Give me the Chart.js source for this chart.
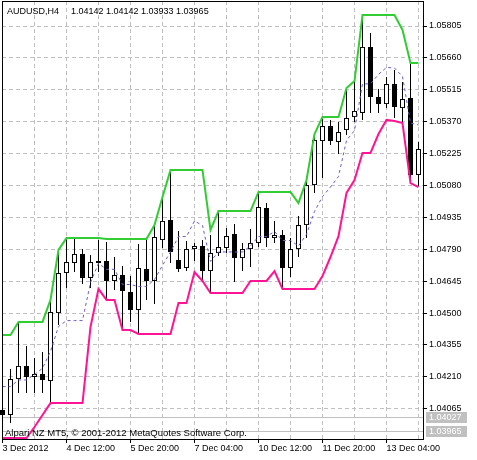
<!DOCTYPE html>
<html>
<head>
<meta charset="utf-8">
<script src="https://cdn.jsdelivr.net/npm/chart.js@4.4.1/dist/chart.umd.min.js"></script>
<style>
  html, body { margin: 0; padding: 0; background: #fff; }
  canvas { display: block; }
</style>
</head>
<body>
<canvas id="chart" width="477" height="460"></canvas>
<script>
// AUDUSD H4 candles, one entry per bar
const opens  = [1.04060, 1.04037, 1.04200, 1.04260, 1.04210, 1.04223, 1.04191, 1.04500, 1.04682, 1.04728,
                1.04769, 1.04660, 1.04737, 1.04737, 1.04646, 1.04673, 1.04596, 1.04514, 1.04700, 1.04646,
                1.04832, 1.04923, 1.04741, 1.04705, 1.04791, 1.04805, 1.04691, 1.04773, 1.04796, 1.04860,
                1.04750, 1.04791, 1.04819, 1.04978, 1.04841, 1.04855, 1.04705, 1.04791, 1.04900, 1.05082,
                1.05282, 1.05350, 1.05278, 1.05332, 1.05391, 1.05410, 1.05710, 1.05482, 1.05450, 1.05541,
                1.05432, 1.05478, 1.05128];
const highs  = [1.04078, 1.04246, 1.04455, 1.04350, 1.04296, 1.04323, 1.04550, 1.04787, 1.04841, 1.04837,
                1.04791, 1.04764, 1.04832, 1.04823, 1.04755, 1.04714, 1.04669, 1.04814, 1.04832, 1.04896,
                1.05023, 1.05150, 1.04873, 1.04828, 1.04819, 1.04832, 1.04855, 1.04964, 1.04887, 1.04905,
                1.04819, 1.04882, 1.05050, 1.05000, 1.04919, 1.04878, 1.04841, 1.04941, 1.05100, 1.05314,
                1.05391, 1.05378, 1.05369, 1.05519, 1.05550, 1.05855, 1.05773, 1.05519, 1.05573, 1.05605,
                1.05550, 1.05632, 1.05278];
const lows   = [1.04023, 1.04000, 1.04137, 1.04137, 1.04137, 1.04137, 1.04091, 1.04446, 1.04614, 1.04687,
                1.04632, 1.04614, 1.04687, 1.04564, 1.04605, 1.04423, 1.04460, 1.04405, 1.04560, 1.04541,
                1.04796, 1.04728, 1.04687, 1.04691, 1.04737, 1.04646, 1.04591, 1.04760, 1.04773, 1.04641,
                1.04691, 1.04710, 1.04800, 1.04800, 1.04819, 1.04610, 1.04664, 1.04755, 1.04841, 1.05046,
                1.05114, 1.05264, 1.05223, 1.05310, 1.05369, 1.05378, 1.05410, 1.05410, 1.05432, 1.05387,
                1.05360, 1.05100, 1.05078];
const closes = [1.04037, 1.04200, 1.04260, 1.04210, 1.04223, 1.04196, 1.04505, 1.04682, 1.04732, 1.04769,
                1.04660, 1.04732, 1.04728, 1.04646, 1.04673, 1.04600, 1.04514, 1.04705, 1.04646, 1.04846,
                1.04919, 1.04778, 1.04700, 1.04791, 1.04805, 1.04691, 1.04773, 1.04800, 1.04850, 1.04750,
                1.04791, 1.04819, 1.04982, 1.04841, 1.04855, 1.04705, 1.04791, 1.04900, 1.05082, 1.05287,
                1.05350, 1.05282, 1.05323, 1.05387, 1.05419, 1.05710, 1.05482, 1.05450, 1.05541, 1.05437,
                1.05473, 1.05128, 1.05246];

// price channel lines
const upper  = [1.04400, 1.04400, 1.04460, 1.04460, 1.04460, 1.04460, 1.04560, 1.04787, 1.04841, 1.04841,
                1.04841, 1.04841, 1.04841, 1.04837, 1.04837, 1.04837, 1.04837, 1.04837, 1.04837, 1.04900,
                1.05028, 1.05150, 1.05150, 1.05150, 1.05150, 1.05150, 1.04878, 1.04964, 1.04964, 1.04964,
                1.04964, 1.04964, 1.05050, 1.05050, 1.05050, 1.05050, 1.05050, 1.05000, 1.05105, 1.05314,
                1.05391, 1.05391, 1.05391, 1.05523, 1.05555, 1.05855, 1.05855, 1.05855, 1.05855, 1.05855,
                1.05787, 1.05637, 1.05637];
const lower  = [1.03932, 1.03932, 1.03932, 1.03932, 1.03982, 1.04037, 1.04091, 1.04091, 1.04091, 1.04091,
                1.04091, 1.04437, 1.04610, 1.04560, 1.04560, 1.04423, 1.04423, 1.04405, 1.04405, 1.04405,
                1.04405, 1.04405, 1.04546, 1.04546, 1.04687, 1.04646, 1.04591, 1.04591, 1.04591, 1.04591,
                1.04591, 1.04646, 1.04646, 1.04646, 1.04691, 1.04610, 1.04610, 1.04610, 1.04610, 1.04610,
                1.04669, 1.04755, 1.04850, 1.05046, 1.05105, 1.05228, 1.05228, 1.05314, 1.05378, 1.05373,
                1.05364, 1.05091, 1.05073];
const middle = [1.04166, 1.04166, 1.04196, 1.04196, 1.04221, 1.04249, 1.04326, 1.04439, 1.04466, 1.04466,
                1.04466, 1.04639, 1.04726, 1.04699, 1.04699, 1.04630, 1.04630, 1.04621, 1.04621, 1.04653,
                1.04717, 1.04778, 1.04848, 1.04848, 1.04919, 1.04898, 1.04735, 1.04778, 1.04778, 1.04778,
                1.04778, 1.04805, 1.04848, 1.04848, 1.04871, 1.04830, 1.04830, 1.04805, 1.04858, 1.04962,
                1.05030, 1.05073, 1.05121, 1.05285, 1.05330, 1.05542, 1.05542, 1.05585, 1.05617, 1.05614,
                1.05576, 1.05364, 1.05355];

// axes
const priceTicks = [1.04065, 1.04210, 1.04355, 1.04500, 1.04645, 1.04790, 1.04935,
                    1.05080, 1.05225, 1.05370, 1.05515, 1.05660, 1.05805];
const gridBars   = [0, 4, 8, 12, 16, 20, 24, 28, 32, 36, 40, 44, 48, 52];
const dateBars   = [0, 8, 16, 24, 32, 40, 48];
const dateLabels = ['3 Dec 2012', '4 Dec 12:00', '5 Dec 20:00', '7 Dec 04:00',
                    '10 Dec 12:00', '11 Dec 20:00', '13 Dec 04:00'];

// current quotes and texts
const ask = 1.04027;
const bid = 1.03965;
const symbolText = 'AUDUSD,H4';
const ohlcText = '1.04142 1.04142 1.03933 1.03965';
const copyright = 'Alpari NZ MT5, \u00a9 2001-2012 MetaQuotes Software Corp.';

const FONT = 'Liberation Sans';
Chart.defaults.font.family = FONT;
Chart.defaults.font.size = 9;
Chart.defaults.color = '#000';

const idx = opens.map((_, i) => i);
const wicks = idx.map(i => ({ x: i, y: [lows[i], highs[i]] }));
const bodies = idx.map(i => ({ x: i, y: [Math.min(opens[i], closes[i]), Math.max(opens[i], closes[i])] }));
const bodyFill = idx.map(i => closes[i] >= opens[i] ? '#ffffff' : '#000000');
const asPoints = arr => arr.map((v, i) => ({ x: i, y: v }));

// frame, header, quote lines
const overlay = {
  id: 'overlay',
  beforeDatasetsDraw(chart) {
    const { ctx, chartArea: a, scales: { y } } = chart;
    ctx.save();
    ctx.strokeStyle = '#c0c0c0';
    ctx.lineWidth = 1;
    [ask, bid].forEach(p => {
      const py = Math.round(y.getPixelForValue(p)) + 0.5;
      ctx.beginPath();
      ctx.moveTo(a.left, py);
      ctx.lineTo(a.right, py);
      ctx.stroke();
    });
    ctx.restore();
  },
  afterDraw(chart) {
    const { ctx, chartArea: a, scales: { y } } = chart;
    ctx.save();
    ctx.strokeStyle = '#000';
    ctx.lineWidth = 1;
    ctx.strokeRect(a.left + 0.5, a.top + 0.5, a.right - a.left, a.bottom - a.top);

    ctx.font = '9px "' + FONT + '"';
    ctx.fillStyle = '#000';
    ctx.textBaseline = 'alphabetic';
    ctx.fillText(symbolText, 7, 13.5);
    ctx.fillText(ohlcText, 71, 13.5);
    ctx.font = '9.5px "' + FONT + '"';
    ctx.fillText(copyright, 5, 435.5);

    ctx.font = '9px "' + FONT + '"';
    [ask, bid].forEach(p => {
      const py = Math.round(y.getPixelForValue(p));
      ctx.fillStyle = '#c0c0c0';
      ctx.fillRect(a.right + 3, py - 5, 41, 11);
      ctx.fillStyle = '#ffffff';
      ctx.textBaseline = 'middle';
      ctx.fillText(p.toFixed(5), a.right + 6, py + 0.5);
    });
    ctx.restore();
  }
};

new Chart(document.getElementById('chart').getContext('2d'), {
  type: 'bar',
  data: {
    datasets: [
      { type: 'line', data: asPoints(upper), borderColor: '#32cd32', borderWidth: 2,
        pointRadius: 0, tension: 0, order: 0 },
      { type: 'line', data: asPoints(lower), borderColor: '#ff1493', borderWidth: 2,
        pointRadius: 0, tension: 0, order: 0 },
      { type: 'line', data: asPoints(middle), borderColor: '#6a5acd', borderWidth: 1,
        borderDash: [3, 3], pointRadius: 0, tension: 0, order: 0 },
      { type: 'bar', data: bodies, backgroundColor: bodyFill, borderColor: '#000', borderWidth: 1,
        borderSkipped: false, barThickness: 5, grouped: false, inflateAmount: 0, order: 1,
        clip: { left: 3, top: 0, right: 0, bottom: 0 } },
      { type: 'bar', data: wicks, backgroundColor: '#000', borderWidth: 0,
        barThickness: 1, grouped: false, inflateAmount: 0, order: 2,
        clip: { left: 3, top: 0, right: 0, bottom: 0 } }
    ]
  },
  options: {
    responsive: false,
    animation: false,
    events: [],
    layout: { autoPadding: false, padding: { left: 2, top: 1, right: 0, bottom: 0 } },
    plugins: {
      legend: { display: false },
      tooltip: { enabled: false },
      title: { display: false }
    },
    scales: {
      x: {
        type: 'linear',
        min: -0.0625,
        max: 52.5625,
        offset: false,
        afterFit: s => { s.height = 21; s.paddingLeft = 0; s.paddingRight = 0; },
        afterBuildTicks: s => { s.ticks = gridBars.map(v => ({ value: v })); },
        grid: {
          offset: false,
          color: c => (c.tick && c.tick.value === 0) ? 'rgba(0,0,0,0)' : '#c0c0c0',
          tickColor: c => (c.tick && dateBars.includes(c.tick.value)) ? '#000' : 'rgba(0,0,0,0)',
          tickLength: 4
        },
        border: { color: '#000', dash: [4, 3] },
        ticks: {
          autoSkip: false, maxRotation: 0, minRotation: 0,
          align: 'start', padding: 0, color: '#000',
          callback: v => { const k = dateBars.indexOf(v); return k < 0 ? '' : dateLabels[k]; }
        }
      },
      y: {
        type: 'linear',
        position: 'right',
        beginAtZero: false,
        min: 1.039277,
        max: 1.059187,
        afterFit: s => { s.width = 54; s.paddingTop = 0; s.paddingBottom = 0; },
        afterBuildTicks: s => { s.ticks = priceTicks.map(v => ({ value: v })); },
        grid: { color: '#c0c0c0', tickColor: '#000', tickLength: 4 },
        border: { color: '#000', dash: [4, 3] },
        ticks: { padding: 2, color: '#000', callback: v => v.toFixed(5) }
      }
    }
  },
  plugins: [overlay]
});
</script>
</body>
</html>
